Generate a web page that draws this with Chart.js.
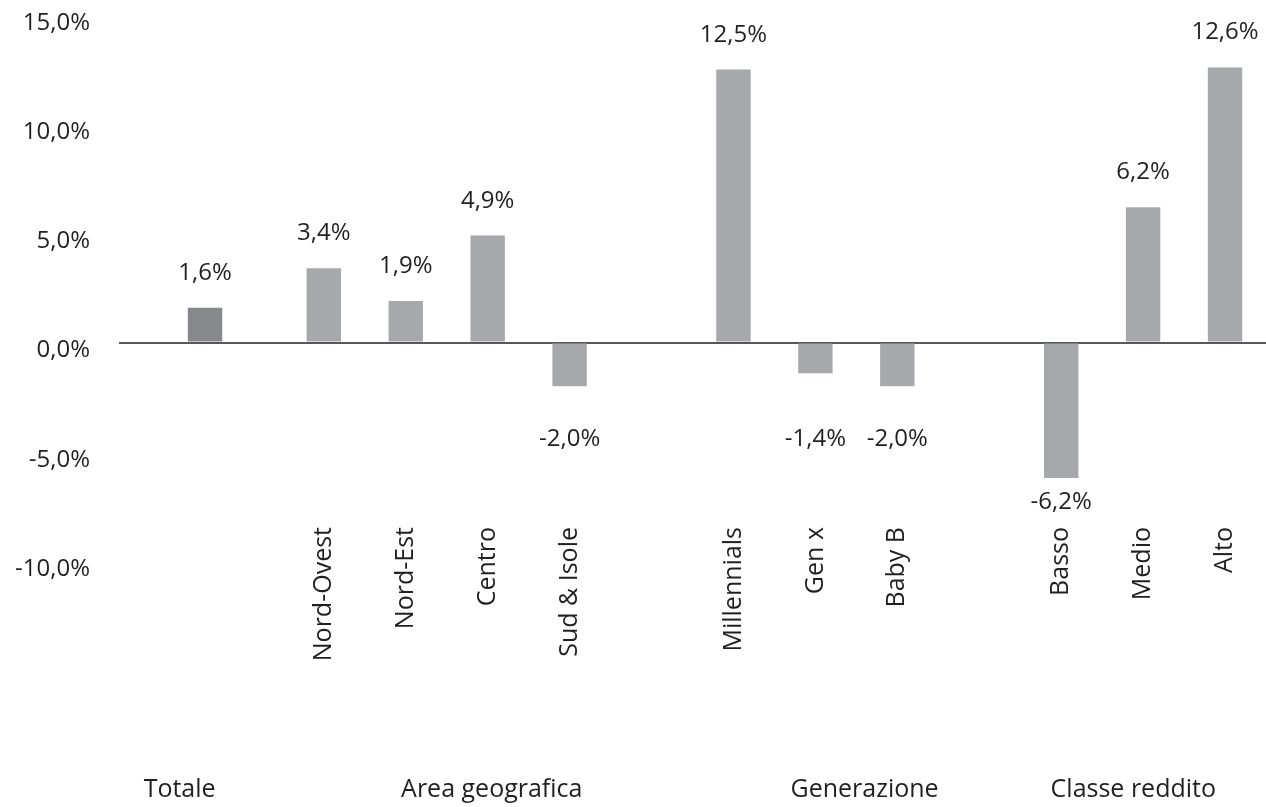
<!DOCTYPE html>
<html>
<head>
<meta charset="utf-8">
<script src="https://cdn.jsdelivr.net/npm/chart.js@4.4.1/dist/chart.umd.min.js"></script>
<style>
    html, body { margin: 0; padding: 0; background: #ffffff; }
    #wrap { width: 1266px; height: 807px; }
</style>
</head>
<body>
<div id="wrap"><canvas id="barChart"></canvas></div>
<script>
// categories of the main axis (blank slots are the gaps between groups)
const categories = ['', '', 'Nord-Ovest', 'Nord-Est', 'Centro', 'Sud & Isole', '', 'Millennials', 'Gen x', 'Baby B', '', 'Basso', 'Medio', 'Alto'];
const values = [null, null, 3.4, 1.9, 4.9, -2.0, null, 12.5, -1.4, -2.0, null, -6.2, 6.2, 12.6];

// the total bar sits on its own axis
const totaleLabel = 'Totale';
const totaleValue = 1.6;

const groupLabels = ['Totale', 'Area geografica', 'Generazione', 'Classe reddito'];
const yTicks = [-10, -5, 0, 5, 10, 15];

const FONT = '"Open Sans", sans-serif';
const TEXT = '#231f20';

// layout of the total axis and of the group captions
const totaleSlots = 20;
const totaleSlot = 1;
const groupAnchors = [0.24, 4.05, 8.6, 11.88];

const totaleLabels = [];
const totaleData = [];
for (let i = 0; i < totaleSlots; i++) {
    totaleLabels.push(i === totaleSlot ? totaleLabel : '');
    totaleData.push(i === totaleSlot ? totaleValue : null);
}

function fmt(v) {
    return v.toFixed(1).replace('.', ',') + '%';
}

// value labels above / below the bars
const valueLabels = {
    id: 'valueLabels',
    afterDatasetsDraw(chart) {
        const ctx = chart.ctx;
        ctx.save();
        ctx.font = '24px ' + FONT;
        ctx.fillStyle = TEXT;
        ctx.textAlign = 'center';
        chart.data.datasets.forEach((ds, di) => {
            const meta = chart.getDatasetMeta(di);
            meta.data.forEach((bar, i) => {
                const v = ds.data[i];
                if (v === null || v === undefined) return;
                if (v >= 0) {
                    ctx.textBaseline = 'alphabetic';
                    ctx.fillText(fmt(v), bar.x, bar.y - 28);
                } else {
                    ctx.textBaseline = 'top';
                    ctx.fillText(fmt(v), bar.x, Math.max(bar.y + 12, bar.base + 84));
                }
            });
        });
        ctx.restore();
    }
};

// rotated category names and group captions below the plot
const axisTexts = {
    id: 'axisTexts',
    afterDraw(chart) {
        const ctx = chart.ctx;
        const x = chart.scales.x;
        const slot = (x.right - x.left) / categories.length;
        ctx.save();
        ctx.font = '25px ' + FONT;
        ctx.fillStyle = TEXT;

        categories.forEach((c, i) => {
            if (!c) return;
            ctx.save();
            ctx.translate(x.getPixelForValue(i), 527);
            ctx.rotate(-Math.PI / 2);
            ctx.textAlign = 'right';
            ctx.textBaseline = 'middle';
            ctx.fillText(c, 0, 0);
            ctx.restore();
        });

        ctx.textAlign = 'center';
        ctx.textBaseline = 'middle';
        groupLabels.forEach((g, i) => {
            ctx.fillText(g, x.left + (groupAnchors[i] + 0.5) * slot, 790);
        });
        ctx.restore();
    }
};

const ctx = document.getElementById('barChart').getContext('2d');

new Chart(ctx, {
    type: 'bar',
    data: {
        labels: categories,
        datasets: [
            {
                label: 'Totale',
                data: totaleData,
                xAxisID: 'xt',
                backgroundColor: '#87888b',
                grouped: false,
                categoryPercentage: 1,
                barPercentage: 0.6
            },
            {
                label: 'Segmenti',
                data: values,
                xAxisID: 'x',
                backgroundColor: '#a7a8ab',
                grouped: false,
                categoryPercentage: 1,
                barPercentage: 0.42
            }
        ]
    },
    options: {
        responsive: true,
        maintainAspectRatio: false,
        animation: false,
        layout: { padding: 0 },
        plugins: {
            legend: { display: false },
            tooltip: { enabled: false }
        },
        scales: {
            x: {
                type: 'category',
                grid: { display: false, drawTicks: false },
                border: { display: false },
                ticks: { display: false },
                afterFit(scale) { scale.height = 246; }
            },
            xt: {
                type: 'category',
                labels: totaleLabels,
                display: false
            },
            y: {
                min: yTicks[0],
                max: yTicks[yTicks.length - 1],
                afterBuildTicks(scale) {
                    scale.ticks = yTicks.map(v => ({ value: v }));
                },
                grid: {
                    drawTicks: false,
                    color: c => c.tick && c.tick.value === 0 ? '#58585a' : 'transparent',
                    lineWidth: 2
                },
                border: { display: false },
                ticks: {
                    padding: 29,
                    labelOffset: 8,
                    color: TEXT,
                    font: { family: FONT, size: 24, lineHeight: 1 },
                    callback: v => fmt(v)
                },
                afterFit(scale) {
                    scale.width = 119;
                    // plot starts right under the top edge, as in the source
                    scale.paddingTop = 15;
                    scale.paddingBottom = 0;
                }
            }
        }
    },
    plugins: [valueLabels, axisTexts]
});
</script>
</body>
</html>
